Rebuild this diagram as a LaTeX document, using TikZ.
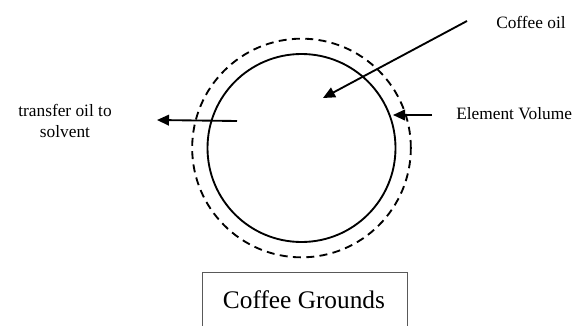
\documentclass[tikz,border=0pt]{standalone}
\usepackage{fontspec}
\setmainfont{Liberation Serif}
\usepackage{tikz}
\usetikzlibrary{arrows.meta,positioning}

\begin{document}
\begin{tikzpicture}[
  x=0.75pt, y=-0.75pt,
  font=\fontsize{13}{16}\selectfont,
  ring/.style={draw, circle, inner sep=0pt},
  lbl/.style={align=center, inner sep=0pt},
  arrow/.style={-{Triangle[length=9pt,width=8pt]}, line width=1.4pt}
]
\useasboundingbox (0,0) rectangle (585,325);
\clip (0,0) rectangle (585,325);
\node[ring, line width=1.4pt, minimum size=141pt] (elem) at (301.5,148) {};
\node[ring, line width=1.4pt, dash pattern=on 6pt off 4pt, minimum size=164pt] (vol) at (301.5,148) {};
\node[lbl] (oil) at (531,22) {Coffee oil};
\node[lbl, anchor=west] (evol) at (456,114) {Element Volume};
\node[lbl] (transfer) at (65,121) {transfer oil to\\solvent};
\node[draw=black!65, line width=1pt, minimum width=154pt, minimum height=60pt, anchor=north west, font=\fontsize{19}{22}\selectfont, text depth=0pt] (grounds) at (201.5,272) {};
\node[font=\fontsize{19}{22}\selectfont] (gtext) at (304,300) {Coffee Grounds};
\coordinate (oilstart) at (467,21);
\coordinate (oiltip) at (323,98);
\coordinate (evstart) at (432,115);
\coordinate (evtip) at (393,115);
\coordinate (trstart) at (237,121);
\coordinate (trtip) at (157,120);
\draw[arrow] (oilstart) -- (oiltip);
\draw[arrow] (evstart) -- (evtip);
\draw[arrow] (trstart) -- (trtip);
\end{tikzpicture}
\end{document}
